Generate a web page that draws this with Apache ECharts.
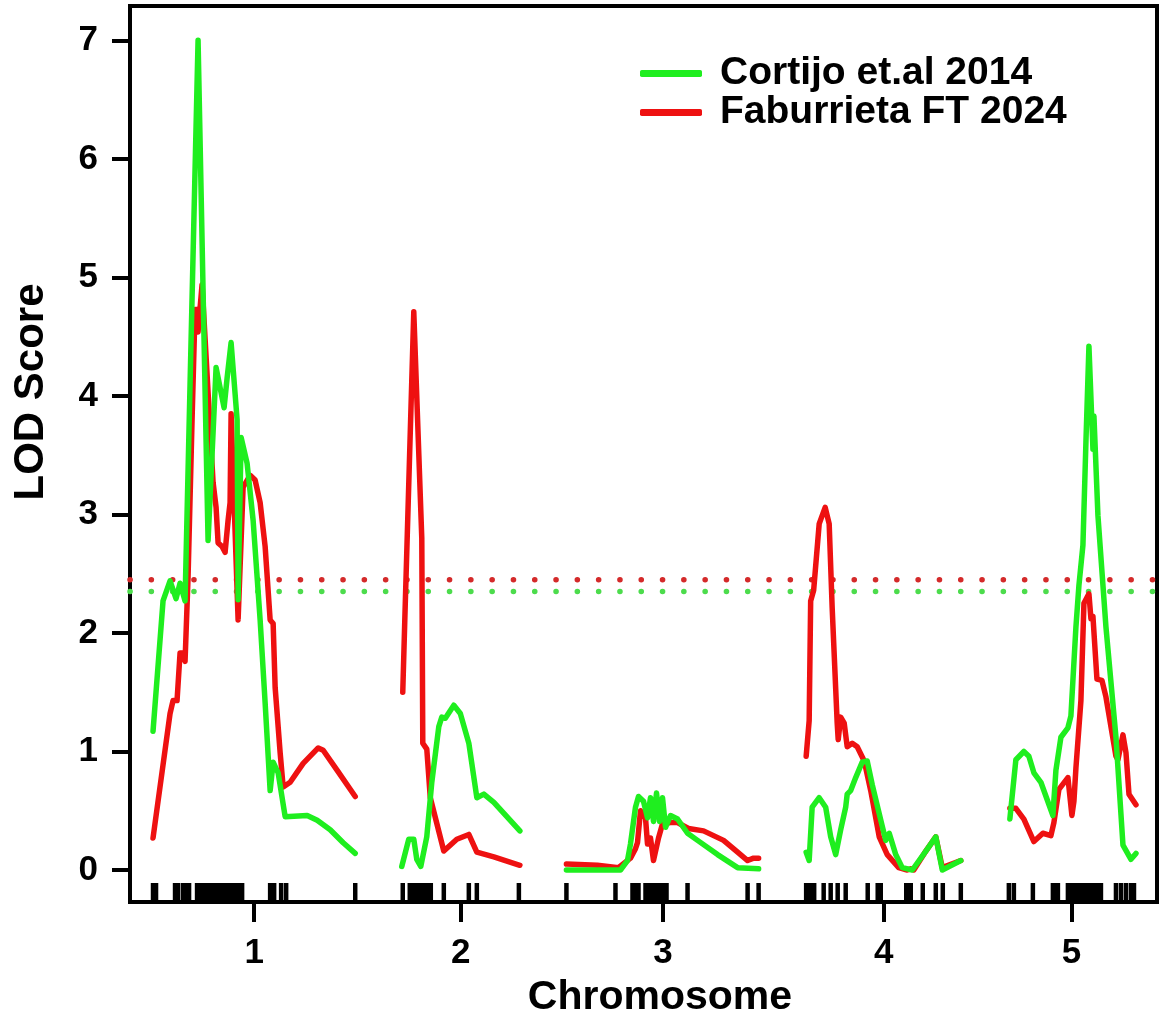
<!DOCTYPE html>
<html>
<head>
<meta charset="utf-8">
<script src="https://cdn.jsdelivr.net/npm/echarts@6/dist/echarts.min.js"></script>
<style>
html,body{margin:0;padding:0;background:#fff;}
#chart{width:1162px;height:1025px;}
</style>
</head>
<body>
<div id="chart"></div>
<script>
// ---------------- data ----------------
const chromosomes = ['1', '2', '3', '4', '5'];
const chrLengths = [202, 118, 193, 155, 127];   // map units per chromosome
const chrGap = 46.5;                             // gap between chromosomes (map units)
const yTicks = [0, 1, 2, 3, 4, 5, 6, 7];
const seriesNames = ['Cortijo et.al 2014', 'Faburrieta FT 2024'];
const thresholdCortijo = 2.35;
const thresholdFaburrieta = 2.45;

// [position within chromosome, LOD]
const chr1Cortijo = [[0,1.17],[10,2.27],[17,2.44],[23,2.29],[27,2.42],[32,2.27],[37,4.1],[45,7.0],[55,2.78],[63,4.24],[71,3.90],[74,4.15],[78,4.45],[84,3.80],[85,2.28],[88,3.65],[94,3.43],[100,2.95],[107,2.11],[112,1.41],[117,0.67],[120,0.91],[125,0.82],[132,0.45],[154,0.46],[164,0.42],[177,0.34],[190,0.23],[202,0.14]];
const chr1Faburrieta = [[0,0.27],[17,1.32],[20,1.43],[24,1.43],[27,1.83],[30,1.83],[32,1.76],[35,2.47],[39,3.80],[42,4.73],[44,4.73],[45,4.54],[49,4.94],[60,3.27],[63,3.06],[65,2.76],[69,2.73],[72,2.68],[75,2.95],[77,3.10],[78,3.85],[85,2.11],[90,3.23],[97,3.33],[102,3.29],[107,3.10],[112,2.73],[117,2.11],[120,2.08],[122,1.54],[127,0.99],[130,0.70],[137,0.74],[150,0.90],[165,1.03],[170,1.01],[184,0.84],[202,0.62]];
const chr2Cortijo = [[0,0.03],[7,0.26],[12,0.26],[15,0.09],[19,0.03],[25,0.28],[30,0.74],[37,1.21],[40,1.29],[43.5,1.28],[52,1.39],[58.5,1.32],[67,1.07],[75,0.61],[82,0.64],[92,0.57],[118,0.33]];
const chr2Faburrieta = [[1,1.50],[3,2.10],[12,4.71],[20,2.80],[21,1.07],[25,1.02],[28.5,0.61],[42,0.16],[55,0.26],[67,0.30],[75,0.15],[92,0.11],[118,0.04]];
const chr3Cortijo = [[0,0],[54,0],[61,0.08],[64,0.22],[69,0.53],[72,0.62],[77,0.58],[81,0.44],[84,0.61],[87,0.41],[90,0.65],[93,0.41],[96,0.61],[99,0.36],[104,0.46],[111,0.43],[121,0.31],[131,0.25],[151,0.13],[171,0.02],[192,0.01]];
const chr3Faburrieta = [[0,0.05],[31,0.04],[52,0.02],[64,0.10],[69,0.18],[71,0.23],[74,0.50],[79,0.44],[81,0.22],[84,0.27],[87,0.08],[92,0.27],[96,0.39],[104,0.40],[111,0.40],[122,0.35],[137,0.33],[157,0.25],[171,0.15],[181,0.08],[187,0.10],[192,0.10]];
const chr4Cortijo = [[0,0.15],[3,0.08],[6,0.53],[13,0.61],[19.5,0.53],[24.5,0.28],[29.5,0.13],[34.5,0.34],[39.5,0.53],[41,0.64],[44.5,0.67],[49.5,0.78],[56,0.91],[61,0.92],[66,0.72],[76,0.37],[79.5,0.25],[83,0.31],[89.5,0.13],[96,0.02],[106,0],[118,0.14],[129.5,0.28],[136,0],[154.5,0.08]];
const chr4Faburrieta = [[0,0.96],[3,1.26],[4.5,2.27],[7.5,2.36],[13,2.92],[19,3.06],[23,2.92],[26,2.21],[31,1.24],[32,1.10],[34.5,1.29],[38,1.24],[41,1.04],[46,1.07],[51,1.04],[58,0.92],[64.5,0.67],[73,0.28],[81,0.13],[92.5,0.02],[101,0],[104.5,0.01],[107.5,0],[118,0.14],[129.5,0.28],[136,0.02],[154.5,0.08]];
const chr5Cortijo = [[2,0.43],[8,0.93],[16,1.00],[21,0.96],[26,0.82],[33,0.74],[45,0.46],[48,0.84],[53,1.12],[60,1.20],[63,1.30],[68,2.05],[71,2.40],[75,2.74],[78,3.61],[81,4.42],[85,3.55],[86,3.83],[90,2.99],[98,2.05],[108,1.12],[115,0.21],[123,0.09],[128,0.14]];
const chr5Faburrieta = [[2,0.52],[8,0.52],[16,0.43],[26,0.24],[35,0.31],[43,0.29],[46,0.40],[51,0.68],[60,0.78],[64,0.46],[66,0.58],[68,0.86],[73,1.43],[76,2.25],[81,2.33],[83,2.12],[85,2.14],[89,1.61],[94,1.60],[98,1.46],[108,0.96],[110,0.93],[115,1.14],[118,0.99],[121,0.64],[128,0.55]];

// marker positions within each chromosome (rug)
const chr1Markers = [0,3,22,25,30,33,36,44,47,50,53,56,59,62,66,70,74,78,82,86,89,117,121,128,133,202];
const chr2Markers = [1,8,11,14,17,20,23,26,29,42,67,75,117];
const chr3Markers = [0,49,66,69,72,79,82,85,88,91,94,97,100,121,181,192];
const chr4Markers = [0,2,4,6,8,17.5,24.5,31.5,39.5,61.5,71.5,74.5,100,102,104.5,116.5,129.5,136.5,154.5];
const chr5Markers = [1,6,25,45,48,50,60,63,66,69,72,75,78,81,84,87,90,93,108,113,118,123,126];

// ---------------- build ----------------
const cortijoByChr = [chr1Cortijo, chr2Cortijo, chr3Cortijo, chr4Cortijo, chr5Cortijo];
const faburrietaByChr = [chr1Faburrieta, chr2Faburrieta, chr3Faburrieta, chr4Faburrieta, chr5Faburrieta];
const markersByChr = [chr1Markers, chr2Markers, chr3Markers, chr4Markers, chr5Markers];

const offsets = [];
let acc = 0;
chrLengths.forEach((len) => { offsets.push(acc); acc += len + chrGap; });
const centers = chrLengths.map((len, i) => offsets[i] + len / 2);
const xMin = -23;
const xMax = offsets[4] + chrLengths[4] + 22;
const yMin = -0.27, yMax = 7.29;

const GREEN = '#1fee1f';
const RED = '#ee1111';
const FONT = '"Liberation Sans", Arial, Helvetica, sans-serif';

const series = [];
// red first so green is drawn on top
faburrietaByChr.forEach((d, i) => {
  series.push({
    name: seriesNames[1], type: 'line', showSymbol: false, symbol: 'none',
    data: d.map(p => [offsets[i] + p[0], p[1]]),
    lineStyle: { color: RED, width: 5.5, join: 'round', cap: 'round' },
    itemStyle: { color: RED }, z: 3, silent: true
  });
});
cortijoByChr.forEach((d, i) => {
  series.push({
    name: seriesNames[0], type: 'line', showSymbol: false, symbol: 'none',
    data: d.map(p => [offsets[i] + p[0], p[1]]),
    lineStyle: { color: GREEN, width: 5.5, join: 'round', cap: 'round' },
    itemStyle: { color: GREEN }, z: 4, silent: true
  });
});
// threshold lines
series.push({
  name: 'thrF', type: 'line', showSymbol: false, symbol: 'none', silent: true, z: 2,
  data: [[xMin, thresholdFaburrieta], [xMax, thresholdFaburrieta]],
  lineStyle: { color: '#d42a2a', width: 5.5, type: [0.1, 21.2], cap: 'round' }
});
series.push({
  name: 'thrC', type: 'line', showSymbol: false, symbol: 'none', silent: true, z: 2,
  data: [[xMin, thresholdCortijo], [xMax, thresholdCortijo]],
  lineStyle: { color: '#4cdc4c', width: 5.5, type: [0.1, 21.2], cap: 'round' }
});
// rug
const rugData = [];
markersByChr.forEach((m, i) => m.forEach(p => rugData.push([offsets[i] + p, yMin])));
series.push({
  name: 'markers', type: 'scatter', silent: true, z: 5,
  symbol: 'rect', symbolSize: [4.5, 19], symbolOffset: [0, -9.5],
  itemStyle: { color: '#000', opacity: 1, borderWidth: 0 }, data: rugData
});

const chart = echarts.init(document.getElementById('chart'), null, { renderer: 'canvas' });
chart.setOption({
  backgroundColor: '#fff',
  animation: false,
  grid: { left: 130, right: 5, top: 6, bottom: 123, show: true, borderColor: '#000', borderWidth: 4, backgroundColor: 'transparent' },
  legend: {
    data: seriesNames, orient: 'vertical', left: 635, top: 49,
    itemWidth: 62, itemHeight: 7, itemGap: 0, icon: 'roundRect',
    textStyle: { fontFamily: FONT, fontWeight: 'bold', fontSize: 39, color: '#000', lineHeight: 35, padding: [0, 0, 0, 13] },
    selectedMode: false
  },
  xAxis: {
    type: 'value', min: xMin, max: xMax,
    axisLine: { show: false, onZero: false },
    splitLine: { show: false },
    axisTick: { show: true, inside: false, length: 20, lineStyle: { color: '#000', width: 4 }, customValues: centers },
    axisLabel: {
      customValues: centers, margin: 34,
      fontFamily: FONT, fontWeight: 'bold', fontSize: 35, color: '#000',
      formatter: v => { let best = 0; centers.forEach((c, i) => { if (Math.abs(c - v) < Math.abs(centers[best] - v)) best = i; }); return chromosomes[best]; }
    }
  },
  yAxis: {
    type: 'value', min: yMin, max: yMax,
    axisLine: { show: false, onZero: false },
    splitLine: { show: false },
    axisTick: { show: true, inside: false, length: 18, lineStyle: { color: '#000', width: 4 }, customValues: yTicks },
    axisLabel: { customValues: yTicks, margin: 32, fontFamily: FONT, fontWeight: 'bold', fontSize: 35, color: '#000', formatter: v => String(v) }
  },
  graphic: [
    { type: 'text', style: { text: 'LOD Score', fontFamily: FONT, fontWeight: 'bold', fontSize: 42, fill: '#000', align: 'center', verticalAlign: 'middle' }, rotation: Math.PI / 2, x: 31, y: 392, z: 10 },
    { type: 'text', style: { text: 'Chromosome', fontFamily: FONT, fontWeight: 'bold', fontSize: 41, fill: '#000', align: 'center', verticalAlign: 'middle' }, x: 660, y: 998, z: 10 }
  ],
  series: series
});
</script>
</body>
</html>
